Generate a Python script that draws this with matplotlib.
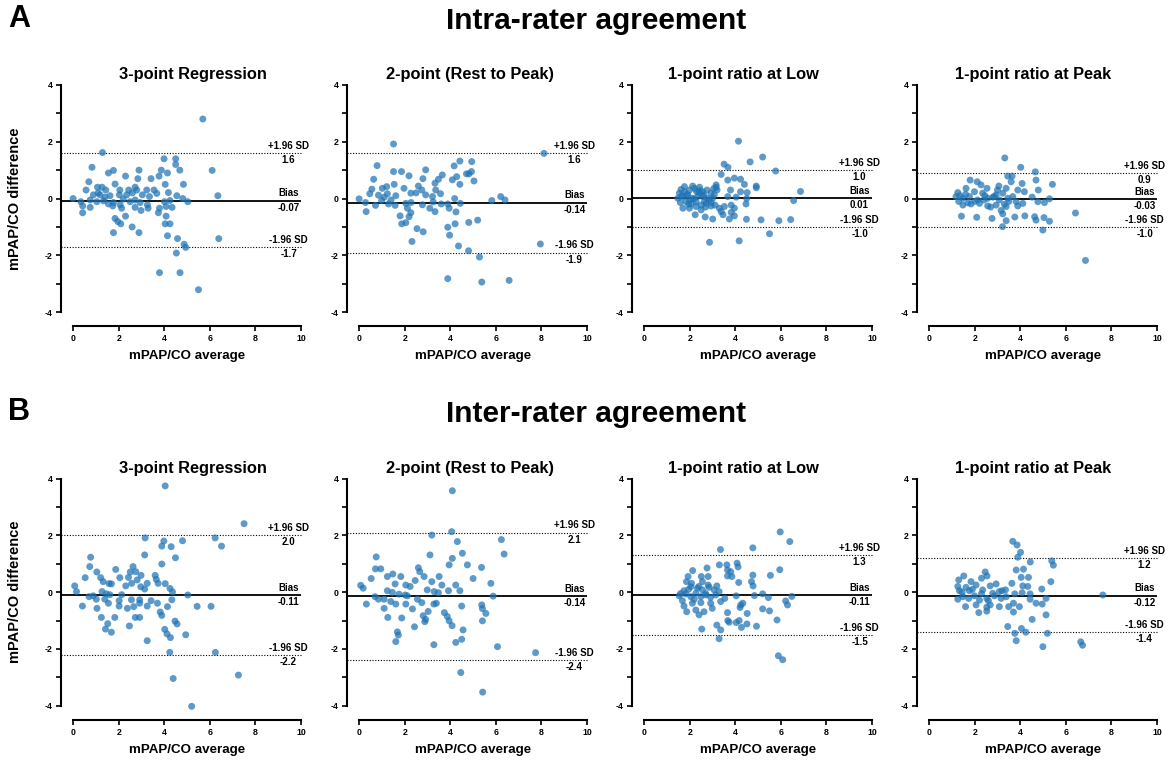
import matplotlib
matplotlib.use("Agg")
import matplotlib.pyplot as plt
from matplotlib.ticker import MultipleLocator

plt.rcParams['font.family'] = ['Liberation Sans', 'DejaVu Sans']
plt.rcParams['axes.unicode_minus'] = False

# ---------------- data ----------------
section_titles = ["Intra-rater agreement", "Inter-rater agreement"]
section_letters = ["A", "B"]
panel_titles = ["3-point Regression", "2-point (Rest to Peak)", "1-point ratio at Low", "1-point ratio at Peak"]
x_label = "mPAP/CO average"
y_label = "mPAP/CO difference"

# limits of agreement per panel: (upper, bias, lower)
a_upper = [1.6, 1.6, 1.0, 0.9]
a_bias = [-0.07, -0.14, 0.01, -0.03]
a_lower = [-1.7, -1.9, -1.0, -1.0]
b_upper = [2.0, 2.1, 1.3, 1.2]
b_bias = [-0.11, -0.14, -0.11, -0.12]
b_lower = [-2.2, -2.4, -1.5, -1.4]

a1_avg = [5.69, 1.29, 3.99, 4.50, 4.50, 4.68, 6.10, 0.83, 1.55, 1.77, 2.89, 3.87, 4.14, 2.30, 2.84, 3.42, 3.77, 0.69, 4.04, 4.84,
          1.07, 1.27, 1.84, 2.72, 3.23, 3.55, 0.57, 1.43, 2.05, 2.44, 2.79, 4.18, 6.35, 0.0, 0.89, 1.18, 1.62, 2.03, 2.35, 3.04,
          3.35, 3.67, 4.55, 4.81, 5.03, 0.34, 0.75, 1.04, 1.33, 1.55, 1.77, 2.06, 2.50, 2.72, 2.94, 3.26, 4.01, 4.25, 0.42, 0.42,
          0.75, 1.74, 2.13, 2.72, 2.98, 3.29, 3.79, 4.08, 4.34, 3.74, 2.30, 1.84, 4.08, 1.96, 2.09, 2.59, 4.04, 4.25, 1.77, 2.89,
          4.14, 4.58, 6.39, 4.87, 4.94, 4.53, 3.79, 4.69, 5.50, 1.10, 1.40, 2.60, 2.20]
a1_diff = [2.80, 1.62, 1.40, 1.40, 1.20, 1.00, 0.99, 1.10, 0.90, 0.99, 1.00, 1.00, 0.90, 0.79, 0.70, 0.70, 0.79, 0.59, 0.50, 0.50,
           0.40, 0.40, 0.51, 0.40, 0.30, 0.30, 0.30, 0.30, 0.30, 0.30, 0.30, 0.21, 0.10, 0.00, 0.13, 0.13, 0.10, 0.13, 0.13, 0.13,
           0.07, 0.18, 0.10, 0.00, -0.11, -0.11, -0.05, -0.11, -0.08, -0.19, -0.14, -0.22, -0.11, -0.05, -0.14, -0.22, -0.11, -0.07, -0.26, -0.50,
           -0.31, -0.26, -0.34, -0.31, -0.42, -0.34, -0.34, -0.28, -0.31, -0.50, -0.62, -0.70, -0.62, -0.81, -0.89, -1.00, -0.89, -0.89, -1.20, -1.20,
           -1.31, -1.41, -1.41, -1.61, -1.72, -1.92, -2.61, -2.61, -3.21, 0.20, 0.05, 0.20, -0.02]

a2_avg = [1.51, 8.11, 0.79, 1.51, 1.86, 2.19, 2.92, 2.80, 0.64, 4.42, 4.17, 4.94, 4.71, 4.82, 4.93, 4.28, 4.09, 5.04, 4.42, 3.65,
          3.48, 3.33, 1.54, 1.21, 1.02, 0.56, 1.97, 2.60, 2.75, 3.36, 0.47, 0.85, 1.24, 1.61, 2.27, 2.92, 3.22, 3.57, 4.19, 0.0,
          6.21, 6.40, 5.82, 4.44, 0.28, 0.72, 0.99, 1.29, 1.58, 2.05, 2.28, 2.78, 3.25, 3.60, 3.89, 0.31, 2.12, 2.27, 3.10, 3.33,
          3.95, 4.25, 1.80, 2.19, 2.05, 1.87, 4.21, 4.81, 5.20, 2.54, 2.81, 3.89, 3.97, 2.32, 4.36, 4.80, 7.95, 5.28, 3.89, 5.38,
          6.58, 1.10, 1.40, 2.50]
a2_diff = [1.92, 1.59, 1.16, 0.95, 0.95, 0.80, 1.01, 0.70, 0.68, 1.32, 1.15, 1.30, 0.87, 0.87, 0.95, 0.77, 0.66, 0.62, 0.50, 0.83,
           0.68, 0.54, 0.50, 0.42, 0.36, 0.33, 0.36, 0.44, 0.30, 0.30, 0.17, 0.12, 0.17, 0.10, 0.19, 0.13, 0.07, 0.17, 0.00, -0.01,
           0.07, -0.05, -0.07, -0.17, -0.14, -0.24, -0.07, -0.19, -0.24, -0.17, -0.14, -0.22, -0.12, -0.19, -0.19, -0.46, -0.34, -0.50, -0.34, -0.46,
           -0.34, -0.47, -0.61, -0.64, -0.85, -0.89, -0.89, -0.84, -0.76, -1.06, -1.17, -1.01, -1.29, -1.51, -1.67, -1.84, -1.60, -2.06, -2.82, -2.94,
           -2.88, 0.05, -0.05, 0.20]

a3_avg = [4.14, 5.20, 4.65, 3.51, 3.68, 5.77, 3.38, 3.67, 3.96, 4.23, 4.40, 4.92, 4.92, 6.86, 3.16, 3.16, 3.79, 4.23, 4.52, 3.67,
          4.04, 4.50, 6.56, 1.55, 1.77, 1.99, 2.21, 2.43, 2.57, 2.76, 2.94, 3.08, 1.48, 1.70, 1.92, 2.13, 2.35, 2.57, 2.79, 3.01,
          1.59, 1.84, 2.06, 2.28, 2.50, 2.72, 2.94, 3.11, 1.70, 1.99, 2.28, 2.50, 2.94, 3.30, 3.38, 3.52, 3.82, 3.96, 4.47, 3.82,
          3.96, 1.77, 2.13, 2.24, 2.68, 3.01, 3.46, 3.74, 4.49, 5.13, 5.91, 6.43, 5.50, 2.87, 4.17, 1.65, 2.00, 2.40, 2.65, 3.20,
          1.62, 1.88, 2.18, 2.45, 2.62, 2.85, 3.05, 2.30, 1.95, 2.70]
a3_diff = [2.02, 1.46, 1.29, 1.21, 1.10, 0.97, 0.85, 0.65, 0.72, 0.68, 0.50, 0.44, 0.38, 0.25, 0.48, 0.40, 0.30, 0.24, 0.21, 0.07,
           0.05, 0.00, -0.07, 0.19, 0.24, 0.30, 0.36, 0.40, 0.24, 0.30, 0.19, 0.13, 0.01, 0.07, 0.13, 0.01, 0.07, 0.07, 0.01, 0.01,
           -0.14, -0.11, -0.19, -0.11, -0.23, -0.17, -0.14, -0.23, -0.34, -0.34, -0.28, -0.40, -0.26, -0.34, -0.46, -0.28, -0.23, -0.34, -0.19, -0.49,
           -0.61, 0.42, 0.44, -0.57, -0.65, -0.72, -0.57, -0.72, -0.73, -0.75, -0.78, -0.74, -1.24, -1.54, -1.49, 0.10, -0.05, 0.20, -0.10, 0.30,
           0.32, 0.15, -0.02, 0.28, 0.12, -0.05, 0.35, 0.25, -0.20, -0.30]

a4_avg = [3.32, 4.02, 4.66, 3.45, 3.64, 4.69, 4.08, 5.41, 1.80, 2.11, 3.60, 4.79, 3.06, 2.28, 2.54, 3.38, 3.89, 4.18, 1.26, 1.62,
          1.99, 2.35, 2.94, 3.23, 3.67, 4.52, 5.28, 1.18, 1.48, 1.77, 2.13, 2.57, 2.86, 3.08, 3.45, 3.82, 4.11, 5.06, 4.77, 1.48,
          1.84, 2.21, 2.57, 2.94, 3.38, 3.89, 3.16, 3.23, 6.42, 1.42, 2.09, 2.76, 3.76, 4.20, 4.63, 4.69, 5.04, 5.28, 3.38, 3.22,
          4.99, 6.86, 1.30, 1.60, 2.00, 2.45, 2.70, 3.00, 3.50, 1.35, 1.70, 2.40, 2.80, 3.30]
a4_diff = [1.43, 1.10, 0.94, 0.79, 0.79, 0.65, 0.53, 0.50, 0.65, 0.59, 0.59, 0.30, 0.44, 0.48, 0.36, 0.36, 0.30, 0.24, 0.21, 0.36,
           0.24, 0.19, 0.13, 0.19, 0.07, 0.05, -0.01, 0.07, 0.01, 0.07, -0.05, 0.01, 0.07, -0.05, 0.01, -0.11, -0.17, -0.14, -0.11, -0.23,
           -0.19, -0.17, -0.26, -0.23, -0.28, -0.26, -0.42, -0.54, -0.51, -0.62, -0.66, -0.70, -0.65, -0.61, -0.64, -0.76, -0.67, -0.80, -0.78, -0.99,
           -1.11, -2.18, -0.10, 0.15, -0.10, 0.10, -0.30, 0.30, -0.10, 0.10, -0.15, -0.05, 0.05, -0.20]

b1_avg = [4.04, 7.50, 3.16, 3.98, 3.89, 4.30, 4.80, 6.23, 6.51, 3.14, 4.49, 3.89, 0.77, 0.73, 1.04, 1.87, 2.63, 2.51, 2.75, 0.53,
          1.21, 2.05, 2.43, 2.98, 3.60, 3.65, 2.81, 1.32, 1.58, 1.68, 2.31, 2.57, 2.97, 3.25, 4.04, 3.73, 4.25, 0.07, 0.15, 1.27,
          1.46, 1.61, 2.13, 3.14, 4.36, 5.03, 0.70, 0.88, 1.02, 1.39, 2.02, 2.56, 2.92, 3.42, 3.70, 4.33, 0.41, 1.05, 1.55, 2.02,
          2.38, 2.66, 2.92, 3.25, 4.14, 5.44, 6.05, 3.82, 3.89, 1.24, 1.83, 2.73, 2.92, 4.47, 4.56, 1.52, 2.47, 1.42, 1.68, 4.02,
          4.12, 4.27, 4.94, 3.25, 4.24, 6.24, 4.39, 7.25, 5.20]
b1_diff = [3.74, 2.41, 1.91, 1.80, 1.62, 1.60, 1.81, 1.91, 1.62, 1.31, 1.21, 0.99, 1.23, 0.90, 0.71, 0.80, 0.90, 0.71, 0.72, 0.51,
           0.51, 0.51, 0.52, 0.59, 0.59, 0.45, 0.43, 0.37, 0.30, 0.29, 0.22, 0.31, 0.19, 0.31, 0.30, 0.31, 0.13, 0.22, 0.02, 0.02,
           -0.06, -0.09, -0.09, 0.11, 0.01, -0.10, -0.16, -0.13, -0.25, -0.25, -0.30, -0.27, -0.27, -0.30, -0.39, -0.27, -0.49, -0.57, -0.39, -0.49,
           -0.57, -0.51, -0.39, -0.49, -0.51, -0.50, -0.50, -0.70, -0.82, -0.89, -0.89, -0.89, -0.89, -1.02, -1.12, -1.11, -1.19, -1.30, -1.41, -1.31,
           -1.47, -1.60, -1.50, -1.71, -2.12, -2.12, -3.04, -2.92, -4.02]

b2_avg = [4.09, 4.06, 3.19, 4.31, 6.24, 6.36, 4.53, 3.11, 4.09, 0.75, 3.95, 4.75, 5.37, 0.72, 0.95, 2.60, 2.66, 0.53, 1.24, 1.48,
          1.83, 2.46, 2.85, 3.51, 5.00, 5.78, 1.58, 2.05, 2.24, 3.19, 3.63, 4.24, 0.07, 0.18, 1.24, 1.46, 1.75, 2.02, 2.99, 3.29,
          3.48, 3.92, 4.42, 5.88, 0.70, 0.85, 1.10, 1.39, 2.12, 2.56, 2.75, 3.39, 0.32, 1.10, 1.61, 2.05, 2.34, 3.03, 3.28, 4.50,
          5.38, 5.41, 5.56, 3.74, 3.87, 1.26, 1.87, 2.81, 2.92, 2.88, 3.95, 5.41, 2.43, 4.08, 4.56, 1.68, 1.72, 1.61, 3.28, 4.24,
          4.50, 6.07, 7.74, 4.46, 5.42]
b2_diff = [3.57, 2.13, 2.01, 1.78, 1.85, 1.34, 1.37, 1.31, 1.19, 1.24, 0.96, 0.96, 0.87, 0.82, 0.82, 0.86, 0.72, 0.48, 0.55, 0.64,
           0.55, 0.41, 0.55, 0.55, 0.48, 0.31, 0.29, 0.25, 0.20, 0.37, 0.25, 0.25, 0.24, 0.14, 0.05, -0.01, -0.07, -0.10, 0.08, 0.02,
           -0.02, 0.05, 0.05, -0.14, -0.16, -0.25, -0.25, -0.33, -0.13, -0.25, -0.37, -0.39, -0.42, -0.57, -0.42, -0.42, -0.59, -0.68, -0.42, -0.49,
           -0.45, -0.58, -0.75, -0.72, -0.86, -0.89, -0.91, -0.83, -0.96, -1.04, -1.01, -1.01, -1.22, -1.18, -1.33, -1.40, -1.51, -1.74, -1.85, -1.77,
           -1.66, -1.92, -2.13, -2.83, -3.52]

b3_avg = [5.97, 6.39, 3.35, 4.77, 3.30, 3.63, 4.08, 4.12, 5.95, 2.76, 3.66, 3.80, 3.66, 3.85, 2.13, 4.77, 5.54, 1.93, 2.51, 2.81,
          1.86, 2.08, 2.56, 2.81, 3.19, 4.15, 4.71, 4.78, 1.75, 2.05, 2.34, 2.56, 2.85, 3.07, 3.29, 1.54, 1.83, 2.05, 2.27, 2.49,
          2.71, 2.92, 3.14, 3.54, 4.04, 4.84, 5.20, 5.45, 6.48, 6.21, 6.29, 1.68, 2.12, 2.49, 2.92, 2.99, 3.36, 1.75, 2.27, 2.63,
          1.87, 2.41, 4.21, 4.33, 4.24, 5.20, 5.50, 4.52, 3.66, 3.67, 3.73, 4.04, 4.17, 4.51, 4.27, 4.93, 5.83, 3.19, 3.36, 2.53,
          3.29, 5.89, 6.08, 1.60, 1.95, 2.20, 2.40, 2.70]
b3_diff = [2.12, 1.78, 1.50, 1.56, 0.96, 0.96, 1.02, 0.89, 0.79, 0.85, 0.78, 0.72, 0.57, 0.55, 0.76, 0.60, 0.59, 0.55, 0.55, 0.55,
           0.37, 0.31, 0.37, 0.25, 0.22, 0.34, 0.37, 0.22, 0.05, 0.19, 0.14, 0.08, 0.17, 0.08, 0.02, -0.13, -0.06, -0.16, -0.04, -0.16,
           -0.10, -0.18, -0.10, -0.22, -0.13, -0.12, -0.06, -0.19, -0.15, -0.31, -0.45, -0.30, -0.39, -0.37, -0.39, -0.57, -0.33, -0.49, -0.63, -0.69,
           -0.69, -0.80, -0.54, -0.39, -0.45, -0.59, -0.66, -0.75, -0.72, -1.00, -1.06, -1.07, -1.00, -1.12, -1.24, -1.20, -0.98, -1.16, -1.33, -1.30,
           -1.64, -2.24, -2.38, -0.05, 0.10, -0.25, 0.20, -0.05]

b4_avg = [3.67, 3.86, 4.01, 3.89, 4.44, 5.38, 5.45, 3.82, 4.14, 2.46, 2.54, 1.52, 1.30, 2.30, 4.04, 4.36, 5.34, 3.63, 2.94, 1.84,
          2.06, 2.68, 1.62, 4.11, 4.33, 4.94, 7.62, 1.26, 1.33, 1.77, 2.35, 2.79, 3.08, 3.35, 3.76, 4.08, 4.43, 1.26, 1.48, 1.74,
          1.99, 2.21, 2.53, 2.87, 3.16, 3.38, 4.43, 4.69, 4.96, 5.13, 1.60, 2.06, 2.53, 2.68, 3.08, 3.49, 3.70, 3.96, 2.18, 2.53,
          3.70, 5.13, 4.52, 3.45, 3.76, 3.82, 4.05, 4.24, 5.19, 4.99, 6.65, 6.73, 1.45, 1.90, 2.30, 2.60, 3.20]
b4_diff = [1.79, 1.66, 1.40, 1.23, 1.06, 1.10, 0.95, 0.78, 0.81, 0.71, 0.57, 0.57, 0.43, 0.49, 0.52, 0.52, 0.37, 0.31, 0.29, 0.37,
           0.25, 0.22, 0.17, 0.22, 0.20, 0.11, -0.10, 0.20, 0.05, 0.05, 0.08, -0.04, 0.02, 0.08, -0.06, -0.02, -0.06, -0.25, -0.16, -0.22,
           -0.13, -0.28, -0.22, -0.13, -0.22, -0.16, -0.25, -0.39, -0.42, -0.22, -0.51, -0.45, -0.53, -0.45, -0.51, -0.51, -0.39, -0.51, -0.72, -0.67,
           -0.70, -0.80, -0.96, -1.21, -1.45, -1.71, -1.28, -1.41, -1.45, -1.92, -1.75, -1.87, 0.00, 0.10, -0.05, -0.30, 0.05]

rows = [
    dict(avg=[a1_avg, a2_avg, a3_avg, a4_avg], diff=[a1_diff, a2_diff, a3_diff, a4_diff],
         upper=a_upper, bias=a_bias, lower=a_lower),
    dict(avg=[b1_avg, b2_avg, b3_avg, b4_avg], diff=[b1_diff, b2_diff, b3_diff, b4_diff],
         upper=b_upper, bias=b_bias, lower=b_lower),
]

# ---------------- layout ----------------
W, H = 1170, 760
fig = plt.figure(figsize=(W / 100, H / 100), dpi=100)
fig.patch.set_facecolor("white")

col_left_px = [61, 347, 632, 917]
ax_w_px = 251.5
ax_h_px = 232.9
row_bottom_px = [315.0, 708.6]
title_x = [0.525, 0.49, 0.445, 0.46]
XMIN, XMAX = -0.53, 10.5

pt_color = "#1f74b4"

for r, row in enumerate(rows):
    for c in range(4):
        ax = fig.add_axes([col_left_px[c] / W, 1 - row_bottom_px[r] / H, ax_w_px / W, ax_h_px / H])
        ax.scatter(row["avg"][c], row["diff"][c], s=25, color=pt_color, alpha=0.72,
                   edgecolors="none", zorder=3, clip_on=False)
        ax.set_xlim(XMIN, XMAX)
        ax.set_ylim(-4.1, 4.1)

        up, bi, lo = row["upper"][c], row["bias"][c], row["lower"][c]
        ax.hlines([up, lo], XMIN, 10, colors="black", linestyles=(0, (1, 1.5)), linewidth=0.8, zorder=2)
        ax.hlines([bi], XMIN, 10, colors="black", linewidth=1.3, zorder=2)

        labels = [("+1.96 SD", f"{up:.1f}", up), ("Bias", f"{bi:.2f}", bi), ("-1.96 SD", f"{lo:.1f}", lo)]
        for name, val, yv in labels:
            ax.annotate(name, (9.45, yv), xytext=(0, 1.5), textcoords="offset points",
                        ha="center", va="bottom", fontsize=7, fontweight="bold", annotation_clip=False)
            ax.annotate(val, (9.45, yv), xytext=(0, -1.5), textcoords="offset points",
                        ha="center", va="top", fontsize=7, fontweight="bold", annotation_clip=False)

        for s in ["top", "right"]:
            ax.spines[s].set_visible(False)
        ax.spines["left"].set_bounds(-4, 4)
        ax.spines["left"].set_linewidth(1.5)
        ax.spines["bottom"].set_bounds(0, 10)
        ax.spines["bottom"].set_linewidth(1.5)
        ax.spines["bottom"].set_position(("outward", 8))

        ax.set_xticks([0, 2, 4, 6, 8, 10])
        ax.set_yticks([-4, -2, 0, 2, 4])
        ax.yaxis.set_minor_locator(MultipleLocator(1))
        ax.tick_params(axis="both", which="major", length=3.5, width=1.2, labelsize=6.3, pad=2.5)
        ax.tick_params(axis="y", which="minor", length=3.5, width=1.2)
        for lab in ax.get_xticklabels() + ax.get_yticklabels():
            lab.set_fontweight("bold")

        ax.set_xlabel(x_label, fontsize=9.6, fontweight="bold")
        ax.xaxis.set_label_coords(0.5, -0.15)
        if c == 0:
            ax.set_ylabel(y_label, fontsize=10.5, fontweight="bold")
            ax.yaxis.set_label_coords(-0.155, 0.5)
        ax.set_title(panel_titles[c], fontsize=11.8, fontweight="bold", x=title_x[c], pad=2)

    # section headers
    y_head = [21, 414][r]
    fig.text(0.5095, 1 - y_head / H, section_titles[r], ha="center", va="center",
             fontsize=21.5, fontweight="bold")
    fig.text(19 / W, 1 - (y_head - 2) / H, section_letters[r], ha="center", va="center",
             fontsize=22, fontweight="bold")

fig.savefig("out.png", dpi=100, facecolor="white")
